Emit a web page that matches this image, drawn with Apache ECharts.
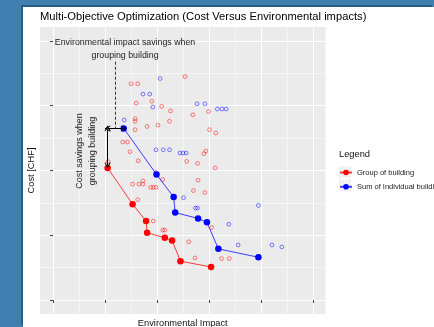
<!DOCTYPE html>
<html>
<head>
<meta charset="utf-8">
<script src="https://cdn.jsdelivr.net/npm/echarts@6/dist/echarts.min.js"></script>
<style>
  html, body { margin: 0; padding: 0; width: 434px; height: 327px; overflow: hidden; background: #4080b0; }
  #chart { position: absolute; left: 23px; top: 7px; width: 411px; height: 320px; background: #fff;
           box-shadow: -2px -2px 0 #2c5d84; }
</style>
</head>
<body>
<div id="chart"></div>
<script>
// Pareto-optimal solutions: [environmental impact, cost]
const groupFront = [
  [10.5, 20.4], [15.3, 14.8], [17.9, 12.2], [18.1, 10.4],
  [21.5, 9.6], [22.9, 9.2], [24.5, 6.0], [30.4, 5.1]
];
const individualFront = [
  [13.6, 26.5], [19.9, 19.4], [23.2, 15.9], [23.5, 13.5],
  [27.9, 12.6], [29.6, 12.0], [31.8, 7.9], [39.5, 6.6]
];

// All evaluated (dominated) solutions
const groupSolutions = [
  [25.4, 34.5], [15.0, 33.4], [16.3, 33.4], [19.0, 30.7], [16.0, 30.4], [20.9, 29.9],
  [22.6, 29.2], [29.9, 29.1], [26.9, 28.6], [15.8, 28.0], [15.8, 27.6], [22.4, 27.6],
  [20.2, 27.0], [18.1, 26.8], [15.8, 26.3], [30.1, 26.3], [31.3, 25.8], [13.4, 24.4],
  [14.3, 24.4], [14.8, 22.9], [16.4, 21.5], [25.7, 21.4], [27.8, 21.1], [29.0, 22.6],
  [29.4, 23.0], [31.2, 20.4], [10.6, 21.4], [19.8, 19.7], [21.1, 18.6], [15.3, 17.9],
  [16.5, 17.9], [17.3, 17.9], [17.3, 18.4], [18.8, 17.4], [19.3, 17.4], [19.8, 17.4],
  [27.9, 18.5], [27.0, 16.9], [29.2, 16.6], [16.3, 15.5], [19.3, 12.2], [21.1, 10.8],
  [21.5, 10.8], [30.5, 11.2], [26.1, 9.0], [27.3, 6.5], [32.4, 6.4], [33.9, 6.4]
];
const individualSolutions = [
  [20.6, 34.2], [17.3, 31.8], [18.6, 31.8], [19.2, 29.8], [27.7, 30.3], [29.2, 30.3],
  [31.6, 29.5], [32.5, 29.5], [33.3, 29.5], [13.7, 27.8], [19.8, 23.2], [21.2, 23.2],
  [22.4, 23.2], [24.4, 22.7], [25.0, 22.7], [25.6, 22.7], [25.1, 15.8], [27.4, 14.2],
  [27.8, 14.2], [39.5, 14.6], [33.8, 11.7], [35.6, 8.5], [42.1, 8.5], [44.0, 8.2]
];

const xTicks = [0, 10, 20, 30, 40, 50];
const yTicks = [0, 10, 20, 30, 40];
const xRange = [-2.5, 52.4];
const yRange = [-2.16, 42.16];

// Annotation anchors
const savingsLabelPos = [13.85, 38.76];
const costLabelPos = [6.3, 23.0];
const dashedGuide = [[11.95, 36.8], [11.95, 26.5]];
const envArrow = [[10.5, 26.5], [13.6, 26.5]];
const costArrow = [[10.5, 26.5], [10.5, 20.8]];

const seriesNames = ['Group of building', 'Sum of Individual building'];
const RED = '#ff0000', BLUE = '#0000ff';
const FONT = '"Liberation Sans", Arial, sans-serif';
const chevron = 'path://M5,0 L10,7 L8.8,7.8 L5,2.4 L1.2,7.8 L0,7 Z';

const chart = echarts.init(document.getElementById('chart'), null, { renderer: 'canvas' });

function axisCommon(ticks, range, name, gap) {
  return {
    type: 'value', min: range[0], max: range[1], splitNumber: 5,
    name: name, nameLocation: 'middle', nameGap: gap,
    nameTextStyle: { fontSize: 9.3, color: '#111', fontFamily: FONT },
    axisLine: { show: false },
    axisLabel: { show: false },
    axisTick: { show: true, length: 3, customValues: ticks, lineStyle: { color: '#444', width: 1 } },
    splitLine: { show: true, lineStyle: { color: '#ffffff', width: 1 } },
    minorTick: { show: false, splitNumber: 2 },
    minorSplitLine: { show: true, lineStyle: { color: '#ffffff', width: 0.5 } }
  };
}

chart.setOption({
  animation: false,
  textStyle: { fontFamily: FONT },
  title: {
    text: 'Multi-Objective Optimization (Cost Versus Environmental impacts)',
    left: 17, top: 4, padding: 0,
    textStyle: { fontSize: 11.2, fontWeight: 'normal', color: '#000', fontFamily: FONT }
  },
  grid: {
    left: 17, top: 20, width: 285.5, height: 287,
    outerBoundsMode: 'none', containLabel: false,
    show: true, backgroundColor: '#ebebeb', borderWidth: 0
  },
  xAxis: axisCommon(xTicks, xRange, 'Environmental Impact', 5),
  yAxis: axisCommon(yTicks, yRange, 'Cost [CHF]', 4),
  legend: {
    data: seriesNames, orient: 'vertical', left: 316, top: 161.5, padding: 0,
    itemWidth: 12, itemHeight: 7, itemGap: 6.3, selectedMode: false,
    textStyle: { fontSize: 7.5, color: '#222', fontFamily: FONT }
  },
  graphic: [
    { type: 'text', left: 316, top: 143, z: 0,
      style: { text: 'Legend', fontSize: 9.3, fill: '#111', fontFamily: FONT } },
    { type: 'rect', left: 316, top: 159, z: 0, shape: { width: 12, height: 12 }, style: { fill: '#f2f2f2' } },
    { type: 'rect', left: 316, top: 172.3, z: 0, shape: { width: 12, height: 12 }, style: { fill: '#f2f2f2' } }
  ],
  series: [
    {
      name: 'group-all', type: 'scatter', data: groupSolutions, symbol: 'circle', symbolSize: 3.8,
      itemStyle: { color: 'rgba(0,0,0,0)', borderColor: 'rgba(255,0,0,0.62)', borderWidth: 1 },
      silent: true, z: 2
    },
    {
      name: 'individual-all', type: 'scatter', data: individualSolutions, symbol: 'circle', symbolSize: 3.8,
      itemStyle: { color: 'rgba(0,0,0,0)', borderColor: 'rgba(0,0,255,0.62)', borderWidth: 1 },
      silent: true, z: 2
    },
    {
      name: seriesNames[1], type: 'line', data: individualFront, symbol: 'circle', symbolSize: 6.5,
      showAllSymbol: true, itemStyle: { color: BLUE },
      lineStyle: { color: BLUE, width: 1, opacity: 0.75 }, z: 3
    },
    {
      name: seriesNames[0], type: 'line', data: groupFront, symbol: 'circle', symbolSize: 6.5,
      showAllSymbol: true, itemStyle: { color: RED },
      lineStyle: { color: RED, width: 1, opacity: 0.75 }, z: 3,
      markLine: {
        silent: true, animation: false, symbolSize: 6, precision: 2,
        label: { show: false },
        data: [
          [{ coord: dashedGuide[0], symbol: 'none', lineStyle: { color: '#000', width: 0.8, type: [3, 2] } },
           { coord: dashedGuide[1], symbol: 'none' }],
          [{ coord: envArrow[0], symbol: chevron, lineStyle: { color: '#000', width: 1, type: 'solid' } },
           { coord: envArrow[1], symbol: chevron }],
          [{ coord: costArrow[0], symbol: chevron, lineStyle: { color: '#000', width: 1, type: 'solid' } },
           { coord: costArrow[1], symbol: chevron }]
        ],
        itemStyle: { color: '#000' }
      },
      markPoint: {
        silent: true, animation: false, symbol: 'circle', symbolSize: 0,
        itemStyle: { color: 'rgba(0,0,0,0)' },
        data: [
          { coord: savingsLabelPos,
            label: { show: true, position: 'inside', formatter: 'Environmental impact savings when\ngrouping building',
                     fontSize: 8.8, lineHeight: 13, color: '#222', align: 'center', fontFamily: FONT } },
          { coord: costLabelPos,
            label: { show: true, position: 'inside', formatter: 'Cost savings when\ngrouping building', rotate: 90,
                     fontSize: 9, lineHeight: 13, color: '#222', align: 'center', fontFamily: FONT } }
        ]
      }
    }
  ]
});
</script>
</body>
</html>
